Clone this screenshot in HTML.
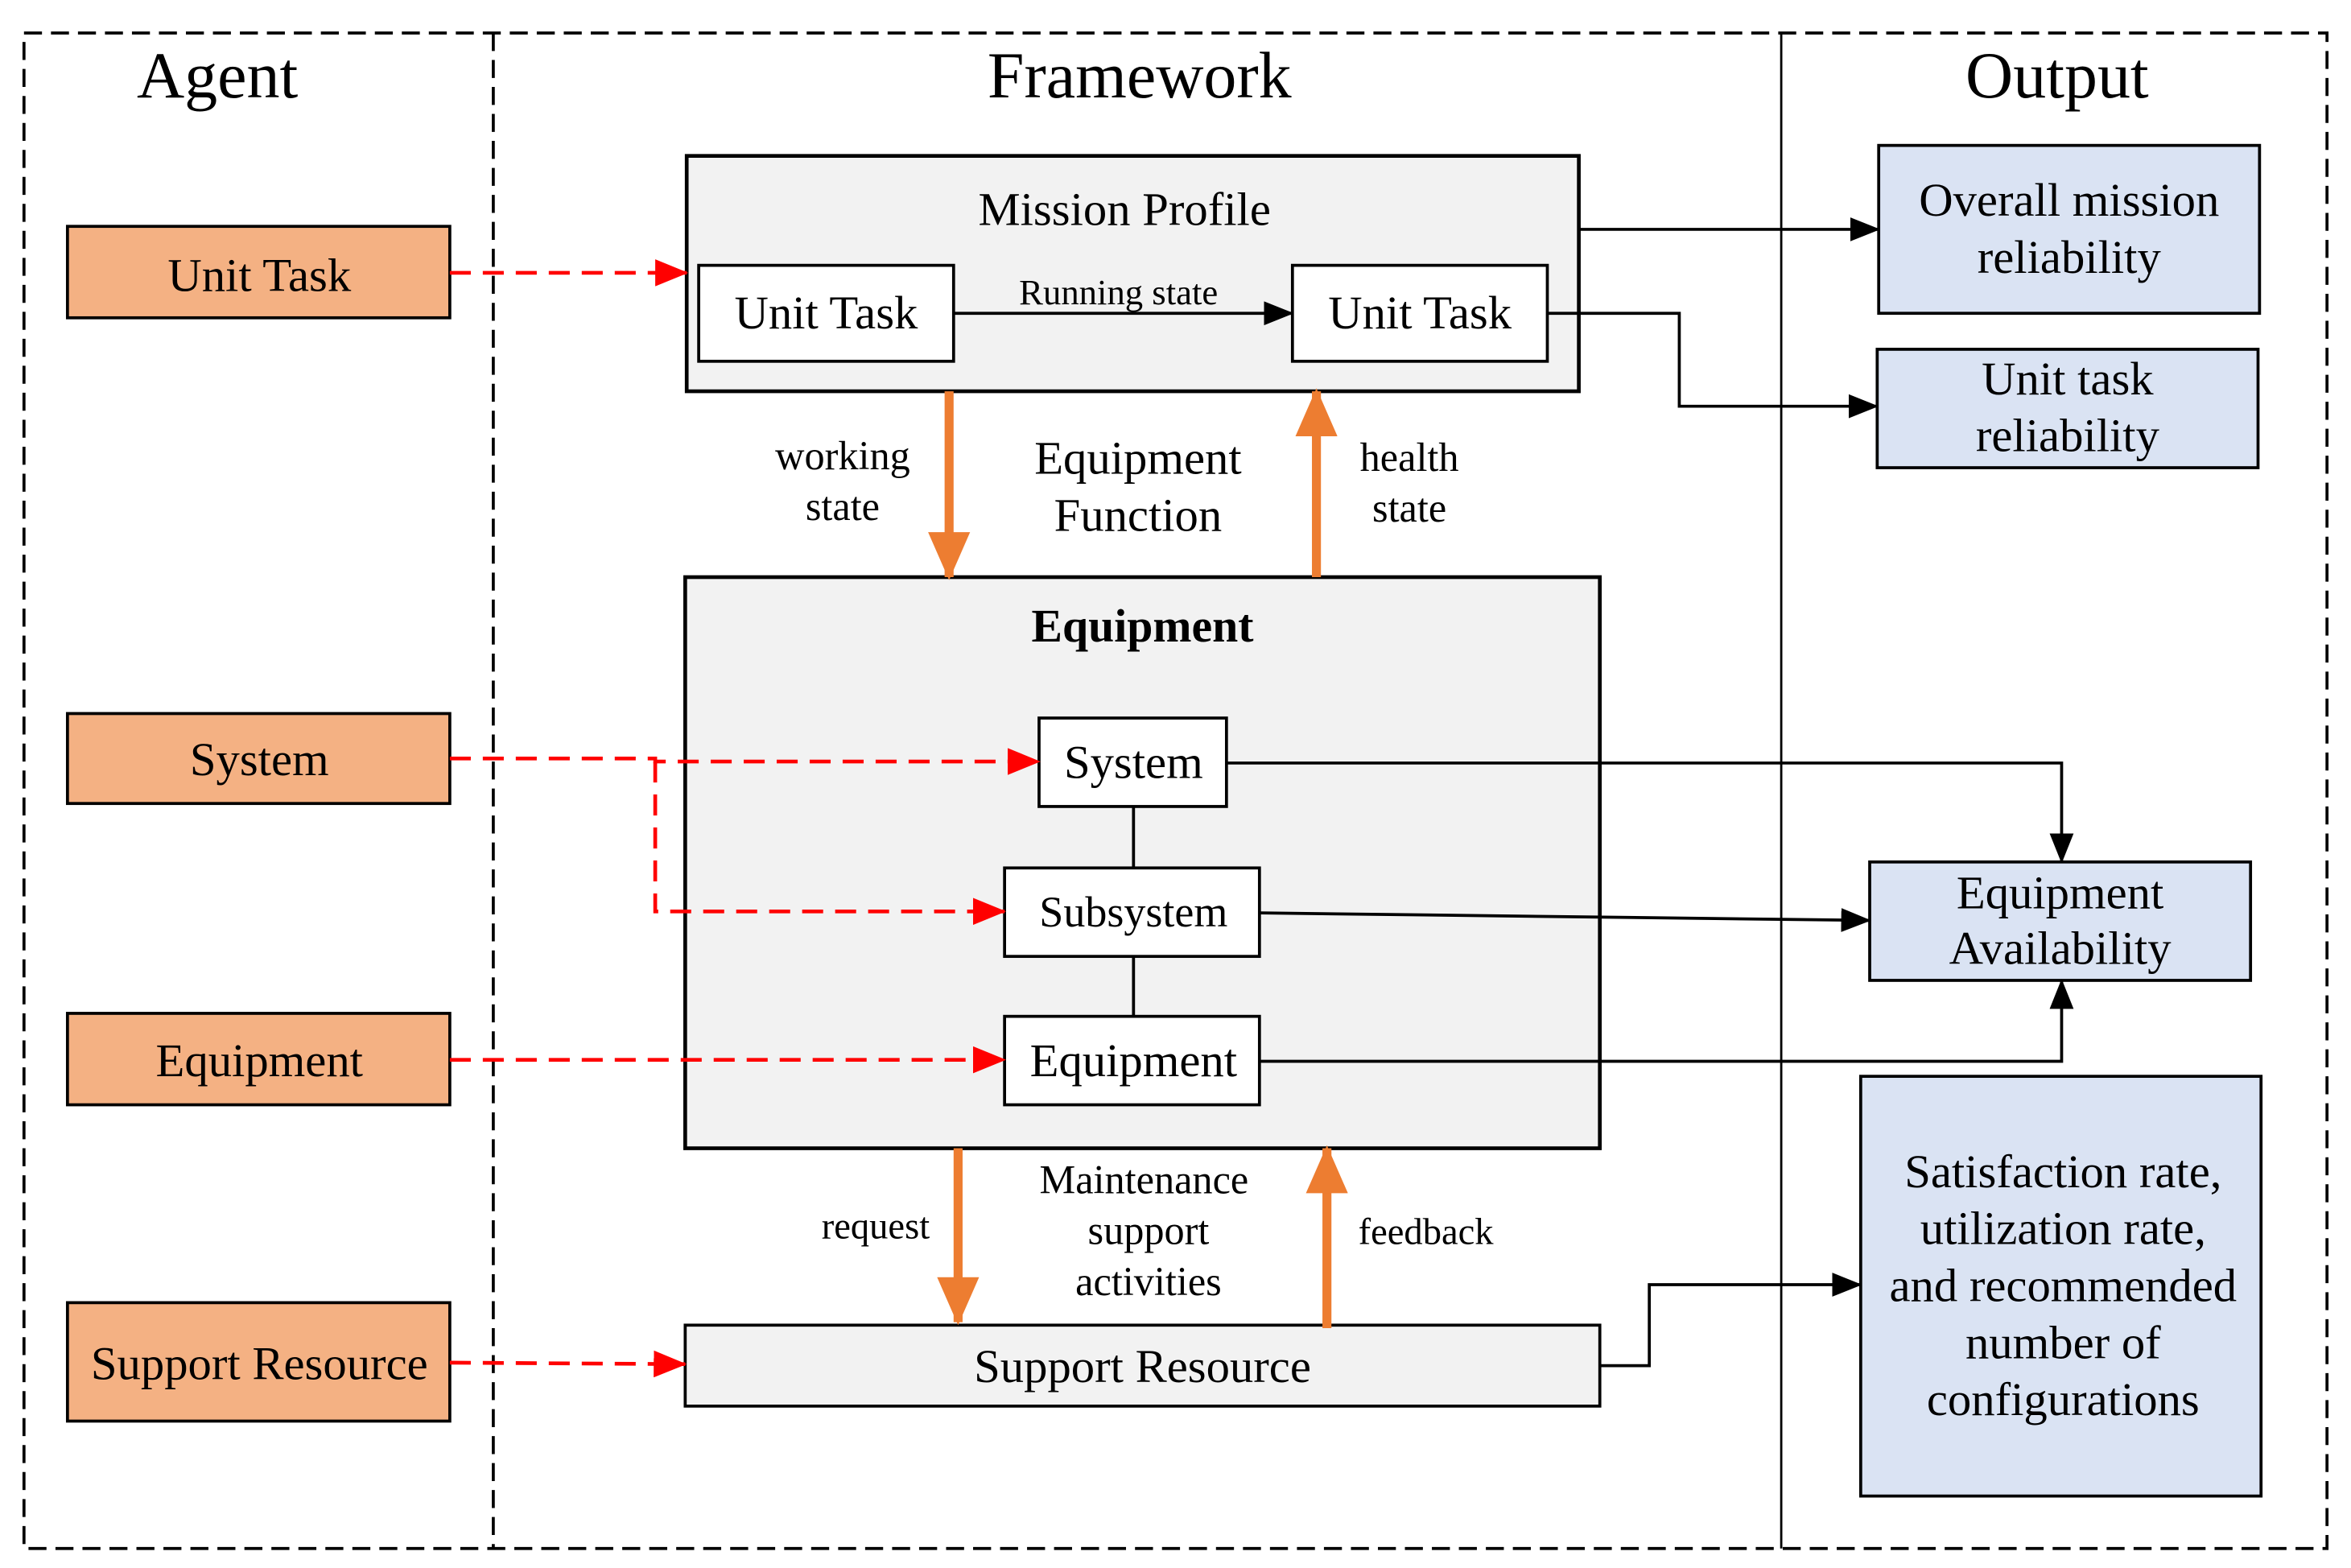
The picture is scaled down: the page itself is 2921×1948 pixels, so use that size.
<!DOCTYPE html>
<html><head><meta charset="utf-8"><style>
html,body{margin:0;padding:0;background:#fff;}
svg{display:block;}
text{font-family:"Liberation Serif",serif;fill:#000;}
</style></head><body>
<svg width="2921" height="1948" viewBox="0 0 1568 1046" preserveAspectRatio="none" xmlns="http://www.w3.org/2000/svg">
<defs>
<marker id="ab2" markerWidth="20" markerHeight="16" refX="19" refY="8" orient="auto" markerUnits="userSpaceOnUse"><path d="M0,0 L20,8 L0,16 z" fill="#000"/></marker>
<marker id="ar" markerWidth="22" markerHeight="18" refX="21" refY="9" orient="auto" markerUnits="userSpaceOnUse"><path d="M0,0 L22,9 L0,18 z" fill="#ff0000"/></marker>
<marker id="ao" markerWidth="32" markerHeight="28" refX="30" refY="14" orient="auto" markerUnits="userSpaceOnUse"><path d="M0,0 L32,14 L0,28 z" fill="#ed7d31"/></marker>
</defs>
<rect x="16" y="22" width="1536" height="1011" fill="none" stroke="#000" stroke-width="2" stroke-dasharray="12,6"/>
<line x1="329" y1="22" x2="329" y2="1033" stroke="#000" stroke-width="2" stroke-dasharray="12,6"/>
<line x1="1188" y1="22" x2="1188" y2="1033" stroke="#000" stroke-width="1.5"/>
<text x="145" y="65" font-size="44" text-anchor="middle">Agent</text>
<text x="760" y="65" font-size="44" text-anchor="middle">Framework</text>
<text x="1372" y="65" font-size="44" text-anchor="middle">Output</text>

<g fill="#f4b183" stroke="#000" stroke-width="2">
<rect x="45" y="151" width="255" height="61"/>
<rect x="45" y="476" width="255" height="60"/>
<rect x="45" y="676" width="255" height="61"/>
<rect x="45" y="869" width="255" height="79"/>
</g>
<g font-size="31.5" text-anchor="middle">
<text x="173" y="194">Unit Task</text>
<text x="173" y="517">System</text>
<text x="173" y="718">Equipment</text>
<text x="173" y="920">Support Resource</text>
</g>

<rect x="458" y="104" width="595" height="157" fill="#f2f2f2" stroke="#000" stroke-width="2.5"/>
<text x="750" y="150" font-size="31.5" text-anchor="middle">Mission Profile</text>
<rect x="466" y="177" width="170" height="64" fill="#fff" stroke="#000" stroke-width="2"/>
<rect x="862" y="177" width="170" height="64" fill="#fff" stroke="#000" stroke-width="2"/>
<text x="551" y="219" font-size="31.5" text-anchor="middle">Unit Task</text>
<text x="947" y="219" font-size="31.5" text-anchor="middle">Unit Task</text>
<line x1="636" y1="209" x2="862" y2="209" stroke="#000" stroke-width="2" marker-end="url(#ab2)"/>
<text x="746" y="203" font-size="24" text-anchor="middle">Running state</text>

<rect x="457" y="385" width="610" height="381" fill="#f2f2f2" stroke="#000" stroke-width="2.5"/>
<text x="762" y="428" font-size="31" font-weight="bold" text-anchor="middle">Equipment</text>
<line x1="756" y1="538" x2="756" y2="579" stroke="#000" stroke-width="2"/>
<line x1="756" y1="638" x2="756" y2="678" stroke="#000" stroke-width="2"/>
<rect x="693" y="479" width="125" height="59" fill="#fff" stroke="#000" stroke-width="2"/>
<rect x="670" y="579" width="170" height="59" fill="#fff" stroke="#000" stroke-width="2"/>
<rect x="670" y="678" width="170" height="59" fill="#fff" stroke="#000" stroke-width="2"/>
<text x="756" y="519" font-size="31.5" text-anchor="middle">System</text>
<text x="756" y="618" font-size="29" text-anchor="middle">Subsystem</text>
<text x="756" y="718" font-size="31.5" text-anchor="middle">Equipment</text>

<rect x="457" y="884" width="610" height="54" fill="#f2f2f2" stroke="#000" stroke-width="2"/>
<text x="762" y="922" font-size="31.5" text-anchor="middle">Support Resource</text>

<g stroke="#ed7d31" stroke-width="6">
<line x1="633" y1="261" x2="633" y2="385" marker-end="url(#ao)"/>
<line x1="878" y1="385" x2="878" y2="261" marker-end="url(#ao)"/>
<line x1="639" y1="766" x2="639" y2="882" marker-end="url(#ao)"/>
<line x1="885" y1="886" x2="885" y2="766" marker-end="url(#ao)"/>
</g>
<g text-anchor="middle">
<text x="562" y="313" font-size="27">working</text>
<text x="562" y="347" font-size="27">state</text>
<text x="759" y="316" font-size="31.5">Equipment</text>
<text x="759" y="354" font-size="31.5">Function</text>
<text x="940" y="314" font-size="27">health</text>
<text x="940" y="348" font-size="27">state</text>
<text x="584" y="826" font-size="25">request</text>
<text x="763" y="796" font-size="27">Maintenance</text>
<text x="766" y="830" font-size="27">support</text>
<text x="766" y="864" font-size="27">activities</text>
<text x="951" y="830" font-size="25">feedback</text>
</g>

<g fill="#dae3f3" stroke="#000" stroke-width="2">
<rect x="1253" y="97" width="254" height="112"/>
<rect x="1252" y="233" width="254" height="79"/>
<rect x="1247" y="575" width="254" height="79"/>
<rect x="1241" y="718" width="267" height="280"/>
</g>
<g font-size="31.5" text-anchor="middle">
<text x="1380" y="144">Overall mission</text>
<text x="1380" y="182">reliability</text>
<text x="1379" y="263">Unit task</text>
<text x="1379" y="301">reliability</text>
<text x="1374" y="606">Equipment</text>
<text x="1374" y="643">Availability</text>
<text x="1376" y="792">Satisfaction rate,</text>
<text x="1376" y="830">utilization rate,</text>
<text x="1376" y="868">and recommended</text>
<text x="1376" y="906">number of</text>
<text x="1376" y="944">configurations</text>
</g>

<g fill="none" stroke="#000" stroke-width="2">
<polyline points="1053,153 1253,153" marker-end="url(#ab2)"/>
<polyline points="1032,209 1120,209 1120,271 1252,271" marker-end="url(#ab2)"/>
<polyline points="818,509 1375,509 1375,575" marker-end="url(#ab2)"/>
<polyline points="840,609 1247,614" marker-end="url(#ab2)"/>
<polyline points="840,708 1375,708 1375,654" marker-end="url(#ab2)"/>
<polyline points="1067,911 1100,911 1100,857 1241,857" marker-end="url(#ab2)"/>
</g>

<g fill="none" stroke="#ff0000" stroke-width="2.5" stroke-dasharray="14,8">
<polyline points="300,182 458,182" marker-end="url(#ar)"/>
<polyline points="300,506 437,506 437,508 693,508" marker-end="url(#ar)"/>
<polyline points="437,508 437,608 670,608" marker-end="url(#ar)"/>
<polyline points="300,707 670,707" marker-end="url(#ar)"/>
<polyline points="300,909 457,910" marker-end="url(#ar)"/>
</g>
</svg>
</body></html>
